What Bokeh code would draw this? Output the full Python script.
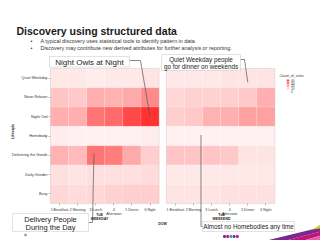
import numpy as np
from bokeh.plotting import figure
from bokeh.models import (Range1d, LinearAxis, FixedTicker, Label, BoxAnnotation,
                          LinearColorMapper, ColumnDataSource)
from bokeh.transform import transform
from bokeh.embed import file_html
from bokeh.resources import INLINE

# ---------------- data ----------------
lifestyles = ["Quiet Weekday", "Noon Relaxer", "Night Owl", "Homebody",
              "Delivering the Goods", "Daily Grinder", "Busy"]
dayparts = ["1 Breakfast", "2 Morning", "3 Lunch", "4\nAfternoon", "5 Dinner", "6 Night"]
panels = ["WEEKDAY", "WEEKEND"]
weekday_visits = [
    [4, 4, 3, 4, 4, 5],
    [12, 11, 17, 16, 18, 25],
    [17, 17, 30, 32, 40, 45],
    [3, 2, 2, 2, 2, 3],
    [16, 14, 30, 28, 18, 10],
    [6, 5, 6, 6, 6, 7],
    [8, 7, 8, 9, 10, 10],
]
weekend_visits = [
    [4, 4, 4, 5, 5, 5],
    [8, 9, 9, 10, 11, 17],
    [10, 11, 16, 17, 20, 20],
    [2, 2, 2, 2, 2, 2],
    [12, 12, 12, 11, 5, 5],
    [4, 4, 4, 4, 4, 4],
    [5, 5, 5, 6, 6, 6],
]
legend_values = [40, 30, 20, 10, 0]

# ---------------- geometry ----------------
W, H = 320, 240
CW, RH = 18.1, 19.3      # px per column / row
X0, Y0 = 50, 68          # pixel of data origin
GAP = 0.4                # gap between panels (columns)
FONT = "Liberation Sans"


def dx(px):
    return (px - X0) / CW


def dy(py):
    return (py - Y0) / RH


p = figure(width=W, height=H, output_backend="svg", toolbar_location=None,
           x_range=Range1d(dx(0), dx(W)), y_range=Range1d(dy(H), dy(0)),
           x_axis_type=None, y_axis_type=None, min_border=0,
           background_fill_color="white", border_fill_color="white")
p.outline_line_color = None
p.xgrid.visible = False
p.ygrid.visible = False

# ---------------- heatmap ----------------
xs, ys, vals = [], [], []
for k, tab in enumerate([weekday_visits, weekend_visits]):
    off = k * (len(dayparts) + GAP)
    for r, row in enumerate(tab):
        for c, v in enumerate(row):
            xs.append(round(off + c + 0.5, 3))
            ys.append(r + 0.5)
            vals.append(v)
src = ColumnDataSource(dict(x=xs, y=ys, v=vals))


def lerp(a, b, t):
    return int(round(a + (b - a) * t))


palette = ["#%02x%02x%02x" % (255, lerp(250, 0, i / 255), lerp(250, 0, i / 255))
           for i in range(256)]
mapper = LinearColorMapper(palette=palette, low=0, high=56)

p.rect("x", "y", width=1, height=1, source=src, fill_color=transform("v", mapper),
       line_color="white", line_width=0.3, line_alpha=0.5)

# panel borders
for k in range(2):
    off = k * (len(dayparts) + GAP)
    p.add_layout(BoxAnnotation(left=off, right=off + len(dayparts), top=0, bottom=len(lifestyles),
                               fill_alpha=0, line_color="#a0a0a0", line_width=0.8))

# ---------------- axes ----------------
yticks = [r + 0.5 for r in range(len(lifestyles))]
yaxis = LinearAxis(fixed_location=0, ticker=FixedTicker(ticks=yticks),
                   major_label_overrides={t: n for t, n in zip(yticks, lifestyles)},
                   axis_line_color=None, major_tick_out=2, major_tick_in=0,
                   major_tick_line_color="#777", major_tick_line_width=0.5,
                   minor_tick_line_color=None, major_label_standoff=1,
                   major_label_text_font=FONT, major_label_text_font_size="3.8px",
                   major_label_text_color="#333")
p.add_layout(yaxis, "left")

xticks, xlabels = [], []
for k in range(2):
    off = k * (len(dayparts) + GAP)
    for c, n in enumerate(dayparts):
        xticks.append(round(off + c + 0.5, 3))
        xlabels.append(n)
xaxis = LinearAxis(fixed_location=len(lifestyles), ticker=FixedTicker(ticks=xticks),
                   major_label_overrides={t: n for t, n in zip(xticks, xlabels)},
                   axis_line_color=None, major_tick_out=2, major_tick_in=0,
                   major_tick_line_color="#777", major_tick_line_width=0.5,
                   minor_tick_line_color=None, major_label_standoff=2,
                   major_label_text_font=FONT, major_label_text_font_size="3.5px",
                   major_label_text_color="#333")
p.add_layout(xaxis, "below")


def lab(text, px, py, size, bold=False, color="#222", align="left", baseline="middle", angle=0.0):
    p.add_layout(Label(x=dx(px), y=dy(py), text=text, text_font=FONT,
                       text_font_size=f"{size}px", text_font_style="bold" if bold else "normal",
                       text_color=color, text_align=align, text_baseline=baseline, angle=angle))


# axis titles
lab("Lifestyle", 12, 131, 3.8, bold=True, align="center", angle=np.pi / 2)
for k, name in enumerate(panels):
    cx = 99 if k == 0 else 221
    lab("TxB", cx, 214, 3.5, bold=True, align="center")
    lab(name, cx, 218, 3.5, bold=True, align="center")
lab("DOW", 162, 223, 3.5, bold=True, align="center")

# ---------------- slide title / bullets ----------------
lab("Discovery using structured data", 16, 30.5, 10.5, bold=True, color="#1a1a1a",
    baseline="alphabetic")
bullets = ["A typical discovery uses statistical tools to identify pattern in data.",
           "Discovery may contribute new derived attributes for further analysis or reporting."]
for i, b in enumerate(bullets):
    lab("\u2022", 30, 40 + 7 * i, 5.4, color="#333")
    lab(b, 40, 40 + 7 * i, 5.4, color="#333")

# ---------------- legend ----------------
lab("Count_of_visits", 279, 75, 3.5, color="#333")
leg_y = [dy(80 + 2.6 * i) for i in range(len(legend_values))]
lsrc = ColumnDataSource(dict(x=[dx(287.5)] * len(legend_values), y=leg_y, v=legend_values))
p.rect("x", "y", width=2.5 / CW, height=2.2 / RH, source=lsrc,
       fill_color=transform("v", mapper), line_color=None)
for i, v in enumerate(legend_values):
    lab(str(v), 290.5, 80 + 2.6 * i, 3.2, color="#333")

# ---------------- callouts ----------------
def leader(pts_px, end):
    lx = [dx(a) for a, b in pts_px] + [end[0]]
    ly = [dy(b) for a, b in pts_px] + [end[1]]
    p.line(lx, ly, line_color="#555", line_width=0.7)


def callout(lines, l, r, t, b, size, ys_px):
    p.add_layout(BoxAnnotation(left=dx(l), right=dx(r), top=dy(t), bottom=dy(b),
                               fill_color="white", fill_alpha=1, line_color="#8a8a8a",
                               line_width=0.8, level="annotation"))
    for txt, yy in zip(lines, ys_px):
        lab(txt, (l + r) / 2, yy, size, color="#222", align="center")


# leader lines end at the cells they point to (data units: column, row)
leader([(129, 60), (140, 60)], (5.5, 2.5))
leader([(240, 59), (244, 59)], (len(dayparts) + GAP + 4.5, 0.72))
leader([(88, 222), (92, 222)], (2.4, 4.4))
leader([(202, 226), (200.5, 226)], (dx(200.5), 3.45))

callout(["Night Owls at Night"], 49, 129, 56, 66.5, 8, [61.5])
callout(["Quiet Weekday people", "go for dinner on weekends"], 161, 240, 54, 70, 6.3, [58.8, 65.5])
callout(["Delivery People", "During the Day"], 12, 88, 213, 231, 7.5, [218.5, 226.5])
callout(["Almost no Homebodies any time"], 202, 294, 221, 231, 6.3, [226])

# ---------------- slide decoration ----------------
def poly(pts, color):
    p.patch([dx(a) for a, b in pts], [dy(b) for a, b in pts], fill_color=color, line_color=None)


poly([(262, 241), (320, 227), (320, 231), (282, 241)], "#7a2a8e")
poly([(282, 241), (320, 231), (320, 235), (300, 241)], "#c4127a")
poly([(300, 241), (320, 235), (320, 241)], "#e55fa6")
poly([(312, 229), (320, 224), (320, 228)], "#c8d22a")
dot_c = ["#7a2a8e", "#c4127a", "#2a9ad8", "#7a2a8e", "#c4127a"]
p.scatter([dx(224 + 3.2 * i) for i in range(5)], [dy(236)] * 5, size=1.8, marker="square",
          color=dot_c)
p.scatter([dx(25)], [dy(234.5)], size=1.5, marker="square", color="#999")

open("out.html", "w").write(file_html(p, INLINE))
